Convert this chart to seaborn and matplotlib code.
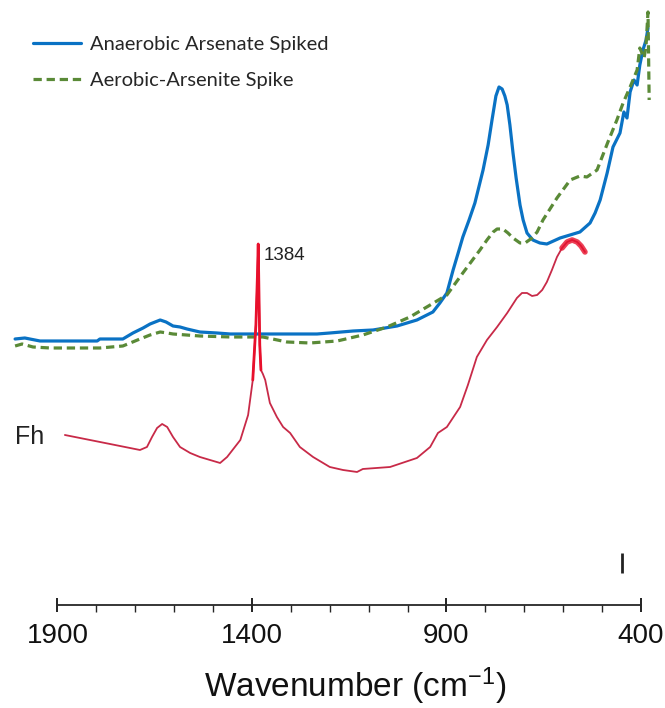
import matplotlib
matplotlib.use("Agg")
import matplotlib.pyplot as plt
import seaborn as sns
from matplotlib.ticker import FixedLocator

# ---- spectra (wavenumber in cm-1, absorbance in arbitrary units) ----
anaerobic_wn = [2009, 1984, 1945, 1798, 1791, 1732, 1706, 1680, 1662, 1649,
                1636, 1621, 1603, 1585, 1567, 1534, 1490, 1456, 1346, 1233,
                1200, 1140, 1089, 1027, 976, 935, 917, 899, 883, 870,
                858, 842, 827, 806, 793, 783, 773, 765, 757, 750,
                744, 737, 729, 721, 711, 703, 693, 678, 660, 642,
                608, 557, 531, 518, 505, 487, 472, 454, 444, 436,
                428, 418, 410, 403, 395, 387, 382]
anaerobic_abs = [0.532, 0.534, 0.528, 0.528, 0.532, 0.532, 0.544, 0.554, 0.562, 0.566,
                 0.570, 0.566, 0.558, 0.556, 0.552, 0.546, 0.544, 0.542, 0.542, 0.542,
                 0.544, 0.548, 0.550, 0.558, 0.570, 0.586, 0.604, 0.624, 0.670, 0.704,
                 0.736, 0.770, 0.804, 0.870, 0.920, 0.970, 1.018, 1.036, 1.032, 1.018,
                 1.000, 0.960, 0.904, 0.854, 0.800, 0.770, 0.744, 0.730, 0.724, 0.722,
                 0.734, 0.746, 0.764, 0.784, 0.810, 0.864, 0.916, 0.944, 0.986, 0.974,
                 1.026, 1.050, 1.040, 1.080, 1.110, 1.130, 1.154]

aerobic_wn = [2009, 1991, 1963, 1919, 1791, 1732, 1688, 1662, 1636, 1618,
              1603, 1534, 1456, 1372, 1310, 1251, 1181, 1115, 1053, 994,
              942, 899, 858, 814, 796, 780, 770, 755, 742, 729,
              711, 698, 680, 667, 652, 616, 582, 557, 539, 513,
              498, 485, 462, 446, 428, 410, 403, 392, 387, 382,
              379]
aerobic_abs = [0.518, 0.522, 0.516, 0.514, 0.514, 0.518, 0.532, 0.540, 0.546, 0.544,
               0.542, 0.538, 0.536, 0.536, 0.526, 0.524, 0.528, 0.540, 0.556, 0.576,
               0.600, 0.620, 0.664, 0.710, 0.730, 0.746, 0.752, 0.752, 0.744, 0.734,
               0.724, 0.724, 0.734, 0.746, 0.770, 0.814, 0.850, 0.858, 0.856, 0.870,
               0.900, 0.926, 0.970, 1.004, 1.036, 1.070, 1.114, 1.094, 1.120, 1.186,
               1.010]

fh_wn = [1881, 1765, 1688, 1670, 1657, 1644, 1631, 1618, 1603, 1585,
         1559, 1534, 1482, 1464, 1430, 1410, 1398, 1390, 1386, 1384,
         1382, 1380, 1377, 1372, 1366, 1354, 1336, 1320, 1302, 1277,
         1243, 1200, 1166, 1130, 1115, 1045, 976, 942, 922, 899,
         865, 845, 822, 796, 770, 744, 719, 706, 693, 680,
         667, 654, 642, 629, 616, 603, 590, 577, 564, 554,
         544]
fh_abs = [0.340, 0.322, 0.310, 0.316, 0.336, 0.354, 0.362, 0.356, 0.336, 0.316,
          0.304, 0.296, 0.284, 0.296, 0.330, 0.380, 0.450, 0.560, 0.660, 0.722,
          0.620, 0.520, 0.470, 0.462, 0.450, 0.404, 0.376, 0.356, 0.344, 0.316,
          0.296, 0.276, 0.270, 0.266, 0.272, 0.276, 0.294, 0.316, 0.344, 0.356,
          0.396, 0.440, 0.496, 0.530, 0.556, 0.584, 0.614, 0.624, 0.624, 0.618,
          0.620, 0.630, 0.646, 0.670, 0.696, 0.714, 0.726, 0.730, 0.726, 0.718,
          0.706]

fh_peak_wn = 1384
fh_peak_abs = 0.722

series_labels = ["Anaerobic Arsenate Spiked", "Aerobic-Arsenite Spike"]
major_ticks = [1900, 1400, 900, 400]
minor_ticks = [1800, 1700, 1600, 1500, 1300, 1200, 1100, 1000, 800, 700, 600, 500]
tick_mark_wn = [449]

# ---- style ----
sns.set_style("ticks")
plt.rcParams["font.family"] = ["Liberation Sans", "DejaVu Sans"]
plt.rcParams["mathtext.fontset"] = "custom"
plt.rcParams["mathtext.rm"] = "Liberation Sans"
plt.rcParams["mathtext.default"] = "rm"

BLUE = "#0A72C4"
GREEN = "#5A8A37"
RED = "#C82A48"
BRIGHT_RED = "#E8102C"

fig = plt.figure(figsize=(6.65, 7.08), dpi=100)
ax = fig.add_axes([0, 0.1455, 1, 0.8545])

sns.lineplot(x=anaerobic_wn, y=anaerobic_abs, ax=ax, sort=False, estimator=None,
             color=BLUE, linewidth=2.3, label=series_labels[0])
sns.lineplot(x=aerobic_wn, y=aerobic_abs, ax=ax, sort=False, estimator=None,
             color=GREEN, linewidth=2.3, linestyle=(0, (2.6, 1.5)),
             label=series_labels[1])
sns.lineplot(x=fh_wn, y=fh_abs, ax=ax, sort=False, estimator=None,
             color=RED, linewidth=1.3, label="_nolegend_")

# sharp nitrate band and the noisy high-absorbance end of the Fh trace
i0, i1 = fh_wn.index(1398), fh_wn.index(1377)
ax.plot(fh_wn[i0:i1 + 1], fh_abs[i0:i1 + 1], color=BRIGHT_RED, lw=2.0,
        solid_capstyle="round")
j0 = fh_wn.index(603)
ax.plot(fh_wn[j0:], fh_abs[j0:], color=BRIGHT_RED, lw=4.0, alpha=0.8,
        solid_capstyle="round", solid_joinstyle="round")

ax.annotate(str(fh_peak_wn), xy=(fh_peak_wn, fh_peak_abs), xytext=(4, -8),
            textcoords="offset points", fontsize=13.5, ha="left", va="center",
            color="#222222")
ax.text(1971, 0.336, "Fh", fontsize=18, ha="center", va="center", color="#222222")

ax.vlines(tick_mark_wn, 0.064, 0.104, color="#222222", lw=2)

ax.set_xlim(2047.8, 338.3)
ax.set_ylim(0, 1.21)

for side in ["left", "right", "top"]:
    ax.spines[side].set_visible(False)
ax.spines["bottom"].set_bounds(400, 1900)
ax.spines["bottom"].set_linewidth(1.3)
ax.set_yticks([])
ax.set_ylabel("")
ax.set_xticks(major_ticks)
ax.set_xticklabels([str(t) for t in major_ticks])
ax.xaxis.set_minor_locator(FixedLocator(minor_ticks))
ax.tick_params(axis="x", which="major", direction="inout", length=10, width=1.3,
               labelsize=20, pad=8, colors="#111111")
ax.tick_params(axis="x", which="minor", direction="out", length=5, width=1.0)

ax.set_xlabel("Wavenumber (cm$^{-1}$)", fontsize=24, color="#111111")
ax.xaxis.set_label_coords(0.534, -0.100)

handles, labels = ax.get_legend_handles_labels()
keep = [(h, l) for h, l in zip(handles, labels) if l in series_labels]
ax.legend([h for h, _ in keep], [l for _, l in keep], loc="upper left",
          bbox_to_anchor=(33 / 665, 1 - 36 / 708), bbox_transform=fig.transFigure,
          frameon=False, borderpad=0, borderaxespad=0, handlelength=2.4,
          handletextpad=0.45, labelspacing=0.95,
          prop={"family": "Lato", "size": 14.5})

fig.savefig("out.png", dpi=100)
